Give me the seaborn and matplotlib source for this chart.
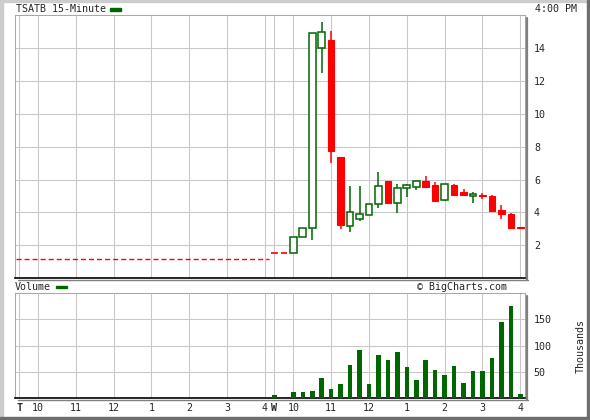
import numpy as np
import pandas as pd
import matplotlib
matplotlib.use("Agg")
import matplotlib.pyplot as plt
from matplotlib.patches import Rectangle
from matplotlib.lines import Line2D
import seaborn as sns

# ---------------- data ----------------
ticker_title = "TSATB 15-Minute"
prev_close = 1.17          # day 1: no trades, flat at previous close
slots_per_day = 26         # 15-minute slots 9:30 .. 15:45, plus 16:00 bar
day2_offset = 27

# day 2 bars, one per 15 min from 9:30 to 16:00
day2_slot = list(range(27))
opens  = [1.53, 1.53, 1.53, 2.51, 3.05, 14.00, 14.50, 7.35, 3.15, 3.60, 3.84, 4.51, 5.94, 4.60,
          5.50, 5.54, 5.94, 5.64, 4.76, 5.64, 5.22, 5.02, 5.06, 4.98, 4.14, 3.90, 3.10]
closes = [1.53, 1.53, 2.51, 3.05, 14.90, 14.97, 7.71, 3.22, 4.03, 3.90, 4.53, 5.63, 4.58, 5.50,
          5.64, 5.92, 5.54, 4.70, 5.74, 5.06, 5.06, 5.12, 5.02, 4.08, 3.88, 3.08, 3.04]
highs  = [1.53, 1.53, 2.51, 3.05, 14.90, 15.60, 15.00, 7.35, 5.59, 5.60, 4.53, 6.45, 5.94, 5.74,
          5.74, 5.92, 6.24, 5.88, 5.74, 5.72, 5.42, 5.22, 5.20, 5.06, 4.44, 3.98, 3.10]
lows   = [1.53, 1.53, 1.53, 2.51, 2.34, 12.48, 7.00, 3.00, 2.79, 3.50, 3.84, 4.26, 4.58, 3.98,
          4.94, 5.36, 5.54, 4.70, 4.68, 5.06, 5.06, 4.58, 4.80, 4.00, 3.60, 3.00, 3.04]
volume_k = [7, 0, 12, 12, 14, 38, 18, 27, 64, 92, 27, 83, 72, 87, 59, 34, 72, 54, 44, 61,
            29, 51, 51, 76, 145, 175, 8]

hour_labels = ["T", "10", "11", "12", "1", "2", "3", "4",
               "W", "10", "11", "12", "1", "2", "3", "4"]
hour_slots  = [0, 2, 6, 10, 14, 18, 22, 26,
               27, 29, 33, 37, 41, 45, 49, 53]
price_ticks = [2, 4, 6, 8, 10, 12, 14]
vol_ticks = [50, 100, 150]

# ---------------- style ----------------
GREEN = "#006600"
RED = "#ff0000"
GRID = "#c8c8c8"

sns.set_style("white")
plt.rcParams["font.family"] = ["DejaVu Sans Mono"]
plt.rcParams["font.size"] = 7.2

W, H = 590, 420
fig = plt.figure(figsize=(W / 100, H / 100), dpi=100)
fig.patch.set_facecolor("white")

def fx(px):
    return px / W

def fy(py):
    return 1 - py / H

L, R = 15.3, 525.0
main_top, main_bot = 15.0, 278.3
vol_top, vol_bot = 293.3, 398.3

ax = fig.add_axes([fx(L), fy(main_bot), fx(R) - fx(L), fy(main_top) - fy(main_bot)])
axv = fig.add_axes([fx(L), fy(vol_bot), fx(R) - fx(L), fy(vol_top) - fy(vol_bot)])

df = pd.DataFrame({"slot": day2_slot, "open": opens, "close": closes,
                   "high": highs, "low": lows, "vol": volume_k})
df["x"] = df["slot"] + day2_offset

# ---------------- price panel ----------------
# day 1 flat previous close (dashed)
ax.hlines(prev_close, -0.35, slots_per_day + 0.4, colors=RED, linewidth=1.0,
          linestyles=(0, (3.6, 2.2)), zorder=2)

up = df[df["close"] > df["open"]]
down = df[df["close"] < df["open"]]
flat = df[df["close"] == df["open"]]

bw = 0.70
# wicks
ax.vlines(up["x"], up["low"], up["high"], colors=GREEN, linewidth=1.1, zorder=2)
ax.vlines(down["x"], down["low"], down["high"], colors=RED, linewidth=1.1, zorder=2)
# bodies
ax.bar(up["x"], up["close"] - up["open"], bottom=up["open"], width=bw,
       facecolor="white", edgecolor=GREEN, linewidth=1.1, zorder=3)
ax.bar(down["x"], down["open"] - down["close"], bottom=down["close"], width=bw,
       facecolor=RED, edgecolor=RED, linewidth=0.8, zorder=3)
ax.hlines(flat["open"], flat["x"] - bw / 2, flat["x"] + bw / 2, colors=RED,
          linewidth=1.2, zorder=3)

ax.set_xlim(-0.4, 53.5)
ax.set_ylim(0, 16)
ax.set_xticks(hour_slots)
ax.set_xticklabels([])
ax.yaxis.tick_right()
ax.set_yticks(price_ticks)
ax.set_yticklabels([str(v) for v in price_ticks])
ax.tick_params(axis="both", length=0)
ax.tick_params(axis="y", pad=6.5)
ax.grid(True, color=GRID, linewidth=0.75)
ax.set_axisbelow(True)

# ---------------- volume panel ----------------
vdf = df[df["vol"] > 0]
sns.barplot(data=vdf, x="x", y="vol", native_scale=True, color=GREEN, saturation=1,
            width=0.48, errorbar=None, ax=axv, zorder=3, linewidth=0)
axv.set_xlim(-0.4, 53.5)
axv.set_ylim(0, 199)
axv.set_xlabel("")
axv.set_ylabel("")
axv.set_xticks(hour_slots)
axv.set_xticklabels(hour_labels)
for t in axv.get_xticklabels():
    if t.get_text() in ("T", "W"):
        t.set_fontweight("bold")
axv.yaxis.tick_right()
axv.set_yticks(vol_ticks)
axv.set_yticklabels([str(v) for v in vol_ticks])
axv.tick_params(axis="both", length=0)
axv.tick_params(axis="y", pad=6.0)
axv.tick_params(axis="x", pad=3.5)
axv.grid(True, color=GRID, linewidth=0.75)
axv.set_axisbelow(True)

# frames
for a in (ax, axv):
    for s in ("left", "top", "right"):
        a.spines[s].set_color("#a8a8a8")
        a.spines[s].set_linewidth(0.75)
        a.spines[s].set_visible(True)
    a.spines["bottom"].set_color("black")
    a.spines["bottom"].set_linewidth(1.2)
    a.spines["bottom"].set_visible(True)

# shadows
for top, bot in ((main_top, main_bot), (vol_top, vol_bot)):
    fig.add_artist(Line2D([fx(R + 2), fx(R + 2)], [fy(top + 3), fy(bot + 2)],
                          color="#808080", linewidth=1.6, transform=fig.transFigure))
    fig.add_artist(Line2D([fx(L + 3), fx(R + 2.8)], [fy(bot + 1.8), fy(bot + 1.8)],
                          color="#808080", linewidth=1.0, transform=fig.transFigure))

# ---------------- texts ----------------
fig.text(fx(16), fy(9.5), ticker_title, ha="left", va="center", fontsize=7.2)
fig.add_artist(Rectangle((fx(110), fy(10.6)), fx(11), 2.2 / H, color=GREEN,
                         transform=fig.transFigure))
fig.text(fx(535), fy(9.5), "4:00 PM", ha="left", va="center", fontsize=7.2)
fig.text(fx(15), fy(287.3), "Volume", ha="left", va="center", fontsize=7.2)
fig.add_artist(Rectangle((fx(56), fy(288.4)), fx(11), 2.2 / H, color=GREEN,
                         transform=fig.transFigure))
fig.text(fx(507), fy(286.7), "\u00a9 BigCharts.com", ha="right", va="center", fontsize=7.2)
fig.text(fx(581), fy(346), "Thousands", ha="center", va="center", rotation=90, fontsize=7.2)

# outer bevel border
fig.add_artist(Rectangle((0, 0), fx(3), 1, color="#cccccc", transform=fig.transFigure))
fig.add_artist(Rectangle((0, fy(2)), 1, 2 / H, color="#cccccc", transform=fig.transFigure))
fig.add_artist(Rectangle((fx(587), 0), fx(3), 1, color="#6e6e6e", transform=fig.transFigure))
fig.add_artist(Rectangle((0, 0), 1, 3 / H, color="#6e6e6e", transform=fig.transFigure))

fig.savefig("out.png", dpi=100)
